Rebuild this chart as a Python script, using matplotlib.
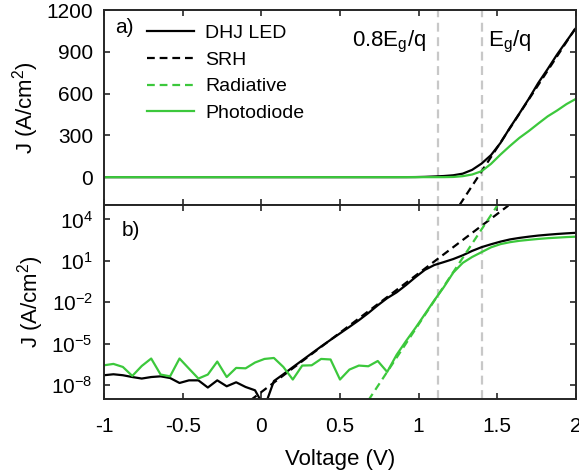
import numpy as np
import matplotlib
matplotlib.use('Agg')
import matplotlib.pyplot as plt

plt.rcParams['font.family'] = ['Liberation Sans', 'DejaVu Sans']
plt.rcParams['mathtext.fontset'] = 'custom'
plt.rcParams['mathtext.rm'] = 'Liberation Sans'
plt.rcParams['mathtext.it'] = 'Liberation Sans:italic'

# Voltage sweep (V)
voltage = [-1.00, -0.94, -0.88, -0.82, -0.76, -0.70, -0.64, -0.58, -0.52, -0.46,
           -0.40, -0.34, -0.28, -0.22, -0.16, -0.10, -0.04, 0.02, 0.08, 0.14,
           0.20, 0.26, 0.32, 0.38, 0.44, 0.50, 0.56, 0.62, 0.68, 0.74,
           0.80, 0.86, 0.92, 0.98, 1.04, 1.10, 1.16, 1.22, 1.28, 1.34,
           1.40, 1.46, 1.52, 1.58, 1.64, 1.70, 1.76, 1.82, 1.88, 1.94, 2.00]

# log10 |J| (A/cm^2)
log_j_led = [-7.28, -7.21, -7.28, -7.41, -7.52, -7.41, -7.36, -7.48, -7.84, -7.65,
             -7.65, -8.17, -7.65, -8.08, -7.79, -8.13, -8.37, -9.60, -7.70, -7.21,
             -6.70, -6.20, -5.70, -5.20, -4.72, -4.25, -3.78, -3.30, -2.78, -2.22,
             -1.70, -1.28, -0.75, -0.18, 0.35, 0.70, 0.91, 1.13, 1.40, 1.72,
             1.99, 2.20, 2.39, 2.55, 2.66, 2.75, 2.83, 2.89, 2.945, 2.99, 3.03]
log_j_pd = [-6.56, -6.46, -6.68, -7.33, -6.61, -6.07, -7.23, -7.36, -6.07, -6.80,
            -7.52, -7.23, -6.29, -7.41, -6.75, -6.78, -6.36, -6.10, -6.03, -6.68,
            -7.59, -6.58, -6.56, -6.10, -6.14, -7.59, -6.87, -6.58, -6.63, -6.25,
            -7.04, -5.80, -4.80, -3.85, -2.85, -1.85, -0.90, 0.15, 0.85, 1.28,
            1.63, 1.98, 2.21, 2.35, 2.45, 2.52, 2.585, 2.64, 2.68, 2.72, 2.75]

# ideal-diode fits (log panel)
srh_v = [-0.07, 1.57]
srh_log_j = [-9.1, 5.0]
rad_v = [0.68, 1.50]
rad_log_j = [-9.1, 5.0]

# SRH fit as drawn in the linear panel
srh_lin_v = [1.26, 2.00]
srh_lin_j = [-200, 1075]

eg = 1.40
green = '#3cc83c'

j_led = 10 ** np.array(log_j_led)
j_pd = 10 ** np.array(log_j_pd)

fig = plt.figure(figsize=(5.79, 4.75), dpi=100)
ax1 = fig.add_axes([0.1796, 0.5684, 0.8152, 0.4105])
ax2 = fig.add_axes([0.1796, 0.16, 0.8152, 0.4084])

# a) linear
ax1.plot(voltage, j_led, color='black', lw=1.6)
ax1.plot(srh_lin_v, srh_lin_j, color='black', lw=1.6, ls=(0, (3.5, 2.2)))
ax1.plot(voltage, j_pd, color=green, lw=1.6)
ax1.set_ylim(-200, 1200)
ax1.set_yticks([0, 300, 600, 900, 1200])

# b) log
l_led, = ax2.plot(voltage, j_led, color='black', lw=1.6, label='DHJ LED')
l_srh, = ax2.plot(srh_v, 10 ** np.array(srh_log_j), color='black', lw=1.6,
                  ls=(0, (3.5, 2.2)), label='SRH')
l_rad, = ax2.plot(rad_v, 10 ** np.array(rad_log_j), color=green, lw=1.6,
                  ls=(0, (3.5, 2.2)), label='Radiative')
l_pd, = ax2.plot(voltage, j_pd, color=green, lw=1.6, label='Photodiode')
ax2.set_yscale('log')
ax2.set_ylim(1e-9, 1.1e5)
ax2.set_yticks([1e-8, 1e-5, 1e-2, 1e1, 1e4])
ax2.set_yticklabels([r'$\mathregular{10^{-8}}$', r'$\mathregular{10^{-5}}$',
                     r'$\mathregular{10^{-2}}$', r'$\mathregular{10^{1}}$',
                     r'$\mathregular{10^{4}}$'])
ax2.minorticks_off()

for ax in (ax1, ax2):
    ax.set_xlim(-1, 2)
    ax.set_xticks([-1, -0.5, 0, 0.5, 1, 1.5, 2])
    for xv in (0.8 * eg, eg):
        ax.axvline(xv, color='#c8c8c8', lw=1.6, ls=(0, (4, 2.5)), zorder=0.5)
    ax.tick_params(direction='in', top=True, right=True, length=4, width=1.2,
                   labelsize=15, color='#262626')
    ax.tick_params(axis='y', pad=8)
    ax.tick_params(axis='x', pad=13)
    for s in ax.spines.values():
        s.set_linewidth(1.4)
        s.set_color('#262626')
    ax.set_ylabel('J (A/cm$^2$)', fontsize=16)

ax1.set_xticklabels([])
ax2.set_xticklabels(['-1', '-0.5', '0', '0.5', '1', '1.5', '2'])
ax2.set_xlabel('Voltage (V)', fontsize=16, labelpad=9)

ax1.text(0.023, 0.912, 'a)', transform=ax1.transAxes, fontsize=15, va='center')
ax2.text(0.038, 0.871, 'b)', transform=ax2.transAxes, fontsize=15, va='center')
ax1.text(1.05, 0.835, r'0.8E$_\mathregular{g}$/q', transform=ax1.get_xaxis_transform(),
         fontsize=16, ha='right', va='center')
ax1.text(1.44, 0.835, r'E$_\mathregular{g}$/q', transform=ax1.get_xaxis_transform(),
         fontsize=16, ha='left', va='center')

ax1.legend(handles=[l_led, l_srh, l_rad, l_pd], loc='upper left',
           bbox_to_anchor=(0.091, 0.925), frameon=False, fontsize=14,
           borderpad=0, borderaxespad=0, handlelength=2.4, handletextpad=0.6,
           labelspacing=0.46)

fig.savefig('out.png', dpi=100)
